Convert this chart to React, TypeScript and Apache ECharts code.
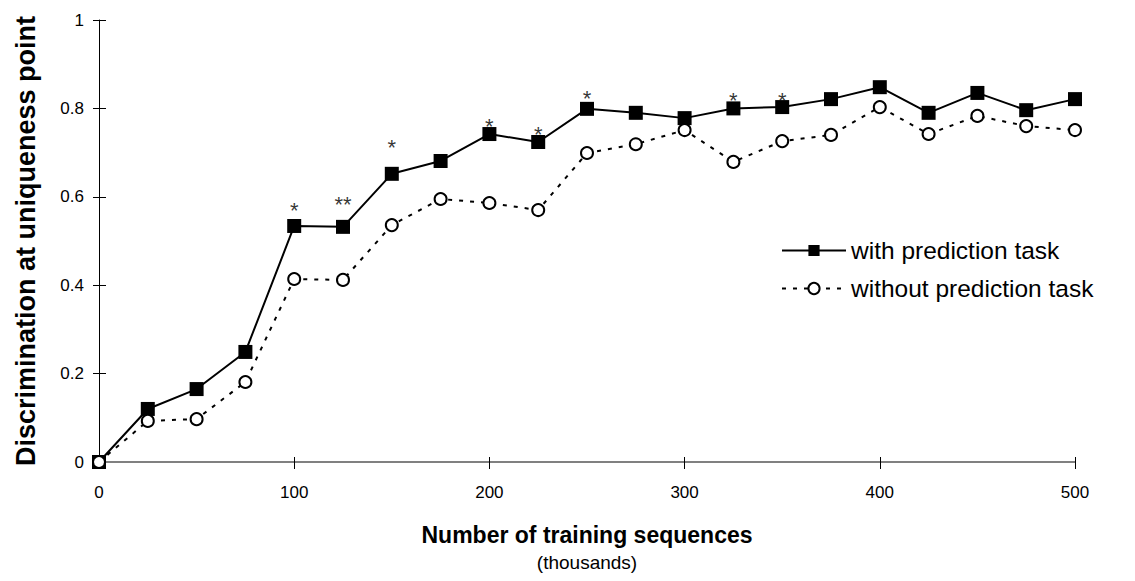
import React, { useEffect, useRef } from "react";
import * as echarts from "echarts";

const xValues = [0, 25, 50, 75, 100, 125, 150, 175, 200, 225, 250, 275, 300, 325, 350, 375, 400, 425, 450, 475, 500];
const withTask = [0, 0.12, 0.165, 0.249, 0.534, 0.532, 0.652, 0.681, 0.742, 0.724, 0.799, 0.79, 0.778, 0.8, 0.803, 0.821, 0.848, 0.79, 0.835, 0.796, 0.821];
const withoutTask = [0, 0.093, 0.097, 0.181, 0.414, 0.412, 0.536, 0.595, 0.586, 0.57, 0.699, 0.719, 0.751, 0.679, 0.726, 0.74, 0.803, 0.742, 0.783, 0.76, 0.751];

// significance markers (manually placed above the "with" series)
const starLabels = ["*", "**", "*", "*", "*", "*", "*", "*"];
const starX = [100, 125, 150, 200, 225, 250, 325, 350];
const starY = [0.581, 0.593, 0.722, 0.771, 0.753, 0.833, 0.83, 0.83];

const FONT = "Liberation Sans, Arial, sans-serif";

export default function App() {
  const ref = useRef<HTMLDivElement>(null);
  useEffect(() => {
    const chart = echarts.init(ref.current!, null, { renderer: "svg" });
    const tickStyle = { color: "#000", width: 1 };
    chart.setOption({
      animation: false,
      backgroundColor: "#fff",
      textStyle: { fontFamily: FONT },
      grid: { left: 99, right: 60, top: 20, bottom: 119 },
      legend: {
        orient: "vertical",
        left: 776,
        top: 233,
        itemWidth: 64,
        itemHeight: 14,
        itemGap: 13,
        textStyle: { fontFamily: FONT, fontSize: 24.5, lineHeight: 25, color: "#000" },
        data: ["with prediction task", "without prediction task"],
      },
      xAxis: [
        {
          type: "value",
          min: 0,
          max: 500,
          interval: 100,
          splitLine: { show: false },
          axisLine: { lineStyle: { color: "#808080", width: 2 } },
          axisTick: { length: 7, lineStyle: tickStyle },
          axisLabel: { fontFamily: FONT, fontSize: 17, color: "#000", margin: 22 },
          name: "{a|Number of training sequences}\n{b|(thousands)}",
          nameLocation: "middle",
          nameGap: 59,
          nameTextStyle: {
            rich: {
              a: { fontFamily: FONT, fontSize: 23, fontWeight: "bold", color: "#000", lineHeight: 28 },
              b: { fontFamily: FONT, fontSize: 19, color: "#000", lineHeight: 26 },
            },
          },
        },
        {
          type: "value",
          position: "bottom",
          min: 0,
          max: 500,
          interval: 100,
          splitLine: { show: false },
          axisLine: { show: false },
          axisTick: { inside: true, length: 5, lineStyle: tickStyle },
          axisLabel: { show: false },
        },
      ],
      yAxis: [
        {
          type: "value",
          min: 0,
          max: 1,
          interval: 0.2,
          splitLine: { show: false },
          axisLine: { lineStyle: { color: "#000", width: 1 } },
          axisTick: { length: 6, lineStyle: tickStyle },
          axisLabel: {
            fontFamily: FONT,
            fontSize: 17,
            color: "#000",
            margin: 15,
            formatter: (v: number) => (v === 0 || v === 1 ? String(v) : v.toFixed(1)),
          },
          name: "Discrimination at uniqueness point",
          nameLocation: "middle",
          nameGap: 60,
          nameTextStyle: { fontFamily: FONT, fontSize: 27, fontWeight: "bold", color: "#000" },
        },
        {
          type: "value",
          position: "left",
          min: 0,
          max: 1,
          interval: 0.2,
          splitLine: { show: false },
          axisLine: { show: false },
          axisTick: { inside: true, length: 7, lineStyle: tickStyle },
          axisLabel: { show: false },
        },
      ],
      series: [
        {
          name: "without prediction task",
          type: "line",
          data: xValues.map((x, i) => [x, withoutTask[i]]),
          symbol: "circle",
          symbolSize: 12,
          showAllSymbol: true,
          z: 2,
          lineStyle: { color: "#000", width: 2, type: [4, 7] },
          itemStyle: { color: "#fff", borderColor: "#000", borderWidth: 2 },
        },
        {
          name: "with prediction task",
          type: "line",
          data: xValues.map((x, i) => [x, withTask[i]]),
          symbol: "rect",
          symbolSize: 14,
          showAllSymbol: true,
          z: 1,
          lineStyle: { color: "#000", width: 2 },
          itemStyle: { color: "#000", borderColor: "#000", borderWidth: 0 },
        },
        {
          name: "significance",
          type: "scatter",
          data: starX.map((x, i) => [x, starY[i]]),
          symbolSize: 1,
          itemStyle: { color: "rgba(0,0,0,0)" },
          silent: true,
          z: 3,
          label: {
            show: true,
            position: "inside",
            offset: [0, 5],
            fontFamily: FONT,
            fontSize: 22,
            color: "#000",
            formatter: (p: any) => starLabels[p.dataIndex],
          },
        },
      ],
    });
    return () => chart.dispose();
  }, []);
  return <div ref={ref} style={{ width: 1135, height: 581, margin: -8 }} />;
}
